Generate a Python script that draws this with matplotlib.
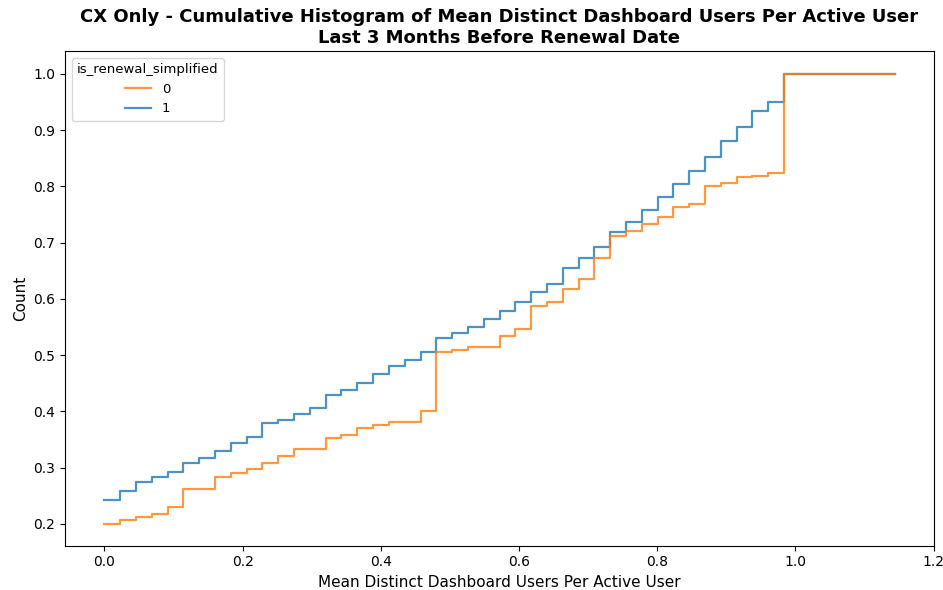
import matplotlib
matplotlib.use("Agg")
import matplotlib.pyplot as plt
import numpy as np

# cumulative share per bin (50 equal bins from 0 to the max value)
x_max = 1.1436
n_bins = 50

renewal_0 = [0.200, 0.207, 0.212, 0.217, 0.230, 0.262, 0.262, 0.284, 0.291, 0.297,
             0.309, 0.321, 0.333, 0.333, 0.352, 0.358, 0.371, 0.375, 0.381, 0.381,
             0.401, 0.505, 0.509, 0.515, 0.515, 0.534, 0.546, 0.588, 0.595, 0.617,
             0.635, 0.673, 0.711, 0.721, 0.733, 0.745, 0.764, 0.769, 0.800, 0.806,
             0.817, 0.818, 0.823, 1.0, 1.0, 1.0, 1.0, 1.0, 1.0, 1.0]

renewal_1 = [0.243, 0.259, 0.275, 0.284, 0.293, 0.308, 0.317, 0.330, 0.344, 0.355,
             0.380, 0.385, 0.396, 0.406, 0.429, 0.438, 0.451, 0.466, 0.481, 0.492,
             0.506, 0.531, 0.540, 0.550, 0.564, 0.579, 0.595, 0.613, 0.626, 0.654,
             0.672, 0.693, 0.718, 0.737, 0.758, 0.781, 0.804, 0.828, 0.852, 0.880,
             0.906, 0.934, 0.950, 1.0, 1.0, 1.0, 1.0, 1.0, 1.0, 1.0]

edges = np.linspace(0, x_max, n_bins + 1)

fig, ax = plt.subplots(figsize=(9.43, 5.9), dpi=100)
fig.subplots_adjust(left=0.069, right=0.990, top=0.913, bottom=0.075)

def stair_line(vals, color, label):
    # step outline that starts at the first bin's height
    xs = np.repeat(edges, 2)[1:-1]
    ys = np.repeat(vals, 2)
    xs = np.concatenate([[edges[0]], xs, [edges[-1]]])
    ys = np.concatenate([[vals[0]], ys, [vals[-1]]])
    return ax.plot(xs, ys, color=color, lw=1.6, alpha=0.8, label=label)[0]

h1 = stair_line(renewal_1, "#1f77b4", "1")
h0 = stair_line(renewal_0, "#ff7f0e", "0")

ax.set_xlim(-0.057, 1.2)
ax.set_ylim(0.161, 1.04)
ax.set_xticks(np.arange(0, 1.21, 0.2))
ax.set_yticks(np.arange(0.2, 1.01, 0.1))
ax.tick_params(labelsize=10)

ax.set_xlabel("Mean Distinct Dashboard Users Per Active User", fontsize=11)
ax.set_ylabel("Count", fontsize=11)
ax.set_title("CX Only - Cumulative Histogram of Mean Distinct Dashboard Users Per Active User\n"
             "Last 3 Months Before Renewal Date", fontsize=13, fontweight="bold")

ax.legend(handles=[h0, h1], title="is_renewal_simplified", loc="upper left",
          fontsize=9.5, title_fontsize=9.5)

fig.savefig("out.png", dpi=100)
